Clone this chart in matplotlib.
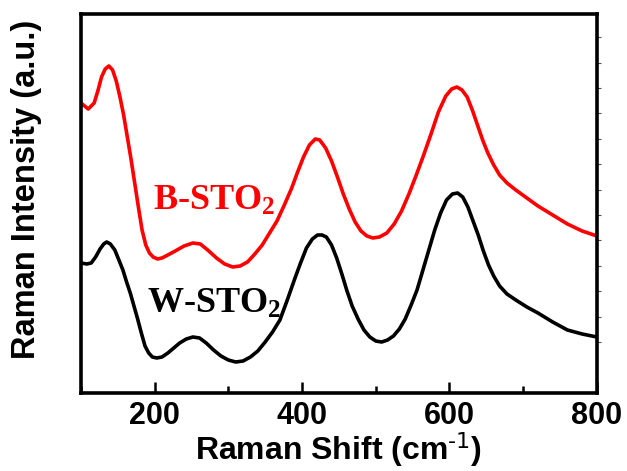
import numpy as np
from matplotlib import pyplot as plt
from matplotlib.ticker import MultipleLocator, FixedLocator

# Raman shift (cm-1) and intensity (a.u.)
b_shift = [100, 110, 118, 123, 128, 133, 138, 143, 148, 153, 158, 163, 168, 173, 178,
           183, 188, 193, 198, 204, 210, 218, 228, 240, 252, 262, 272, 284, 295, 306,
           316, 326, 336, 346, 356, 366, 376, 386, 394, 402, 410, 418, 424, 432, 440,
           448, 456, 464, 472, 480, 488, 496, 505, 515, 525, 535, 545, 555, 565, 575,
           585, 595, 603, 610, 617, 624, 631, 638, 645, 652, 660, 668, 678, 690, 705,
           720, 740, 760, 780, 800]
b_int = [290, 284, 290, 302, 316, 324, 327, 323, 312, 296, 278, 256, 234, 210, 186,
         163, 148, 140, 136, 134, 135, 138, 142, 147, 150, 149, 143, 135, 129, 126,
         127, 131, 139, 148, 160, 172, 188, 205, 221, 236, 248, 254, 253, 245, 232,
         216, 199, 184, 171, 162, 157, 155, 156, 160, 169, 182, 199, 218, 238, 259,
         281, 297, 304, 306, 303, 296, 283, 268, 253, 240, 228, 218, 210, 203, 195,
         187, 178, 169, 162, 157]

w_shift = [100, 108, 114, 120, 126, 131, 135, 140, 146, 151, 157, 162, 167, 172, 177,
           182, 187, 192, 197, 203, 210, 218, 226, 234, 243, 252, 261, 270, 280, 290,
           300, 310, 320, 330, 340, 350, 360, 370, 380, 390, 398, 406, 414, 421, 427,
           433, 440, 447, 454, 461, 468, 476, 484, 492, 500, 508, 516, 524, 532, 540,
           548, 556, 564, 572, 580, 588, 596, 604, 611, 618, 625, 632, 639, 646, 653,
           660, 668, 678, 690, 705, 720, 740, 760, 780, 800]
w_int = [130, 129, 130, 136, 144, 149, 151, 149, 143, 134, 123, 111, 100, 87, 74,
         60, 47, 40, 36, 35, 36, 40, 45, 50, 54, 56, 55, 50, 43, 37,
         33, 31, 32, 36, 42, 51, 61, 73, 93, 114, 130, 145, 154, 158, 158,
         156, 148, 135, 119, 102, 87, 74, 63, 56, 52, 51, 53, 57, 64, 74,
         88, 103, 123, 143, 163, 180, 193, 199, 200, 196, 186, 172, 158, 142, 128,
         117, 107, 99, 93, 86, 80, 71, 63, 59, 56]

plt.rcParams['mathtext.default'] = 'regular'

fig = plt.figure(figsize=(6.27, 4.71), dpi=100)
ax = fig.add_axes([0.129, 0.1656, 0.823, 0.8047])

ax.plot(b_shift, b_int, color='#ff0000', linewidth=2.6, solid_capstyle='round')
ax.plot(w_shift, w_int, color='#000000', linewidth=2.6, solid_capstyle='round')

ax.text(198, 183, 'B-STO$_2$', color='#ff0000', fontsize=26, fontweight='bold',
        family='Liberation Serif')
ax.text(190, 80, 'W-STO$_2$', color='#000000', fontsize=26, fontweight='bold',
        family='Liberation Serif')

ax.set_xlim(100, 800)
ax.set_ylim(0, 379)

for s in ax.spines.values():
    s.set_linewidth(2.6)

ax.xaxis.set_major_locator(MultipleLocator(200))
ax.xaxis.set_minor_locator(MultipleLocator(100))
ax.tick_params(axis='x', which='major', direction='in', length=8, width=1.8,
               pad=6, labelsize=22)
ax.tick_params(axis='x', which='minor', direction='in', length=5, width=1.8)
for lab in ax.get_xticklabels():
    lab.set_fontweight('bold')
    lab.set_family('Liberation Sans')

# small ticks on the right spine only
ax.yaxis.set_major_locator(FixedLocator(np.arange(51, 379, 25.4)))
ax.tick_params(axis='y', which='major', left=False, right=True, labelleft=False,
               direction='out', length=3, width=0.8, color='#555555')

ax.set_xlabel(r'Raman Shift (cm$^{\text{-1}}$)', fontsize=23, fontweight='bold',
              family='Liberation Sans', labelpad=-1)
ax.set_ylabel('Raman Intensity (a.u.)', fontsize=23.5, fontweight='bold',
              family='Liberation Sans')
ax.yaxis.set_label_coords(-0.076, 0.538)

plt.savefig('out.png', dpi=100)
